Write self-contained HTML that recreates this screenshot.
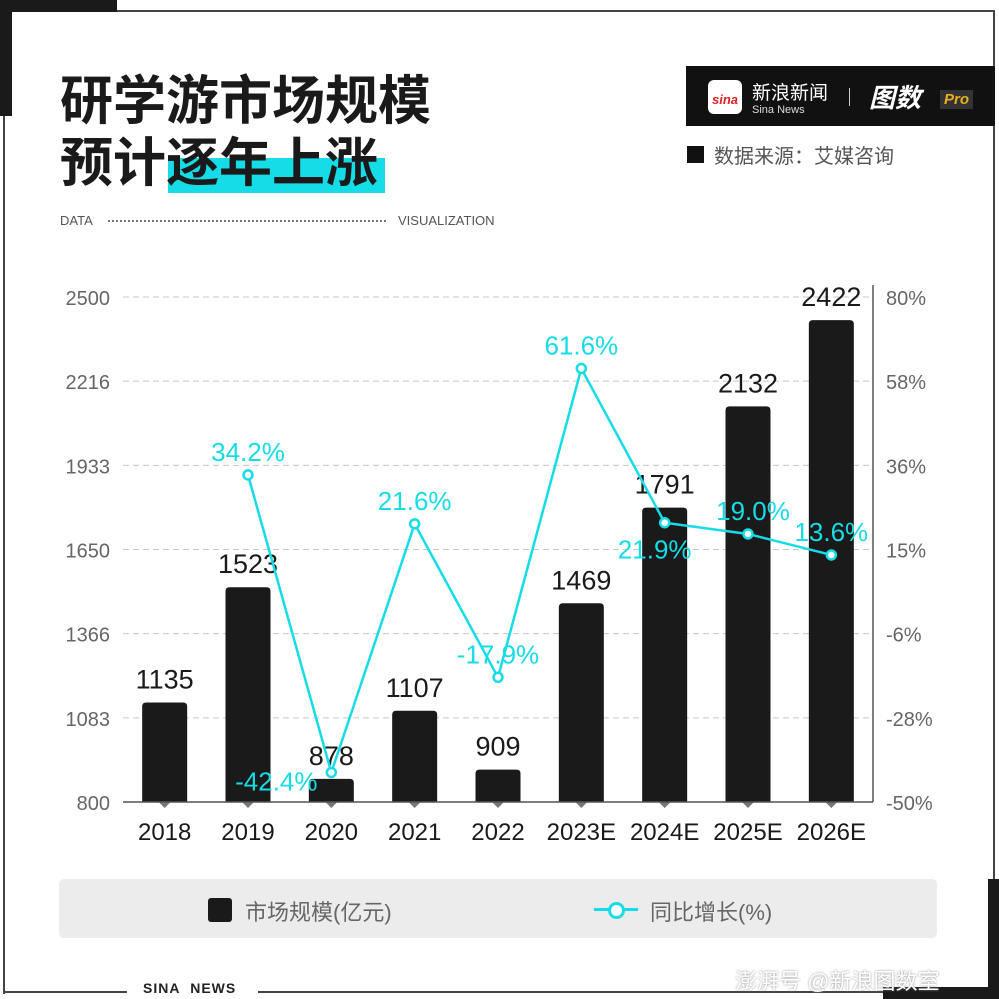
<!DOCTYPE html>
<html><head><meta charset="utf-8"><style>
body{margin:0;width:999px;height:999px;background:#fff;position:relative;overflow:hidden;font-family:"Liberation Sans","Noto Sans CJK SC",sans-serif}
.a{position:absolute}
</style></head><body>
<div class="a" style="left:0;top:0;width:117px;height:12px;background:#1a1a1a"></div>
<div class="a" style="left:0;top:0;width:12px;height:116px;background:#1a1a1a"></div>
<div class="a" style="left:117px;top:10px;width:878px;height:2px;background:#444"></div>
<div class="a" style="left:993px;top:10px;width:2px;height:880px;background:#444"></div>
<div class="a" style="left:3px;top:116px;width:2px;height:878px;background:#444"></div>
<div class="a" style="left:3px;top:991px;width:124px;height:2px;background:#444"></div>
<div class="a" style="left:258px;top:991px;width:741px;height:2px;background:#444"></div>
<div class="a" style="left:988px;top:879px;width:11px;height:120px;background:#1a1a1a"></div>
<div class="a" style="left:883px;top:987px;width:116px;height:12px;background:#1a1a1a"></div>
<div class="a" style="left:143px;top:980px;font-size:14px;font-weight:bold;letter-spacing:1px;color:#222">SINA&nbsp; NEWS</div>
<div class="a" style="left:735px;top:964px;font-size:22px;color:#fff;text-shadow:0 0 2px #888">澎湃号 @新浪图数室</div>

<div class="a" style="left:168px;top:158px;width:217px;height:35px;background:#16dce8"></div>
<div class="a" style="left:60px;top:66px;font-size:53px;font-weight:bold;line-height:62px;color:#1a1a1a;font-family:'Noto Sans CJK SC',sans-serif;white-space:nowrap">研学游市场规模<br>预计逐年上涨</div>
<div class="a" style="left:60px;top:213px;font-size:13px;color:#555">DATA</div>
<div class="a" style="left:108px;top:220px;width:278px;border-top:2px dotted #777"></div>
<div class="a" style="left:398px;top:213px;font-size:13px;color:#555">VISUALIZATION</div>

<div class="a" style="left:686px;top:66px;width:309px;height:60px;background:#111">
 <div class="a" style="left:22px;top:14px;width:34px;height:34px;background:#fff;border-radius:6px;color:#d22;font-size:13px;font-weight:bold;font-style:italic;text-align:center;line-height:40px">sina</div>
 <div class="a" style="left:66px;top:12px;color:#fff;font-size:19px">新浪新闻</div>
 <div class="a" style="left:66px;top:38px;color:#ddd;font-size:11px">Sina News</div>
 <div class="a" style="left:163px;top:22px;width:1px;height:18px;background:#ccc"></div>
 <div class="a" style="left:183px;top:12px;color:#fff;font-size:26px;font-weight:bold;font-style:italic">图数</div>
 <div class="a" style="left:254px;top:24px;background:#333;color:#e8b020;font-size:15px;font-weight:bold;font-style:italic;padding:1px 4px">Pro</div>
</div>
<div class="a" style="left:687px;top:146px;width:17px;height:17px;background:#111"></div>
<div class="a" style="left:714px;top:140px;font-size:20px;color:#555">数据来源：艾媒咨询</div>

<svg class="a" style="left:0;top:0" width="999" height="999" id="chart"></svg>

<div class="a" style="left:59px;top:879px;width:878px;height:59px;background:#ececec;border-radius:5px">
 <div class="a" style="left:149px;top:19px;width:24px;height:24px;background:#1a1a1a;border-radius:3px"></div>
 <div class="a" style="left:186px;top:16px;font-size:22px;color:#666">市场规模(亿元)</div>
 <div class="a" style="left:535px;top:29px;width:44px;height:3px;background:#16dce8"></div>
 <div class="a" style="left:549px;top:23px;width:11px;height:11px;border:3px solid #16dce8;border-radius:50%;background:#fff"></div>
 <div class="a" style="left:591px;top:16px;font-size:22px;color:#666">同比增长(%)</div>
</div>

<script>
const categories=["2018","2019","2020","2021","2022","2023E","2024E","2025E","2026E"];
const marketSize=[1135,1523,878,1107,909,1469,1791,2132,2422];
const growth=[null,34.2,-42.4,21.6,-17.9,61.6,21.9,19.0,13.6];
const leftTicks=[800,1083,1366,1650,1933,2216,2500];
const rightTicks=["-50%","-28%","-6%","15%","36%","58%","80%"];
const labelDx=[0,0,-55,0,0,0,-10,5,0];
const labelDy=[0,-14,18,-14,-14,-14,36,-14,-14];
const NS="http://www.w3.org/2000/svg",svg=document.getElementById('chart');
const X0=123,X1=873,Y0=802,Y1=297;
const band=(X1-X0)/categories.length;
const xc=i=>X0+band*(i+0.5);
const yL=v=>Y0-(v-800)/(2500-800)*(Y0-Y1);
const yR=v=>Y0-(v+50)/130*(Y0-Y1);
function mk(t,a,txt){const e=document.createElementNS(NS,t);for(const k in a)e.setAttribute(k,a[k]);if(txt!=null)e.textContent=txt;svg.appendChild(e);return e;}
leftTicks.forEach((t,i)=>{const y=Y0-i*(Y0-Y1)/(leftTicks.length-1);
 if(i>0){const g=mk('line',{x1:X0,x2:X1,y1:y,y2:y,stroke:'#c8c8c8','stroke-dasharray':'6,4'});
 
 }
 const l=mk('text',{x:110,y:y+8,'text-anchor':'end','font-size':20,fill:'#666'},t);
 
 
 const r=mk('text',{x:886,y:y+8,'font-size':20,fill:'#666'},rightTicks[i]);
 
 });
const ra=mk('line',{x1:X1,x2:X1,y1:285,y2:Y0,stroke:'#555','stroke-width':1.5});


categories.forEach((c,i)=>{const x=xc(i),w=45,y=yL(marketSize[i]);
 const b=mk('path',{d:`M${x-w/2},${Y0}V${y+4}Q${x-w/2},${y} ${x-w/2+4},${y}H${x+w/2-4}Q${x+w/2},${y} ${x+w/2},${y+4}V${Y0}Z`,fill:'#1a1a1a'});
 
 
 const t=mk('text',{x:x,y:y-14,'text-anchor':'middle','font-size':27,fill:'#1a1a1a'},marketSize[i]);
 
 
 const d=mk('path',{d:`M${x-6},${Y0}L${x},${Y0+6}L${x+6},${Y0}Z`,fill:'#777'});
 
 
 const xl=mk('text',{x:x,y:840,'text-anchor':'middle','font-size':24,fill:'#1a1a1a'},c);
 
 });
const ax=mk('line',{x1:X0,x2:X1,y1:Y0,y2:Y0,stroke:'#555','stroke-width':1.5});


let pts=[];growth.forEach((g,i)=>{if(g!=null)pts.push([xc(i),yR(g)]);});
const pl=mk('polyline',{points:pts.map(p=>p.join(',')).join(' '),fill:'none',stroke:'#16dce8','stroke-width':2.5});


growth.forEach((g,i)=>{if(g==null)return;const x=xc(i),y=yR(g);
 const c=mk('circle',{cx:x,cy:y,r:4.5,fill:'#fff',stroke:'#16dce8','stroke-width':2.5});
 
 
 const t=mk('text',{x:x+labelDx[i],y:y+labelDy[i],'text-anchor':'middle','font-size':26,fill:'#16dce8'},g.toFixed(1)+'%');
 
 });
</script>
</body></html>
